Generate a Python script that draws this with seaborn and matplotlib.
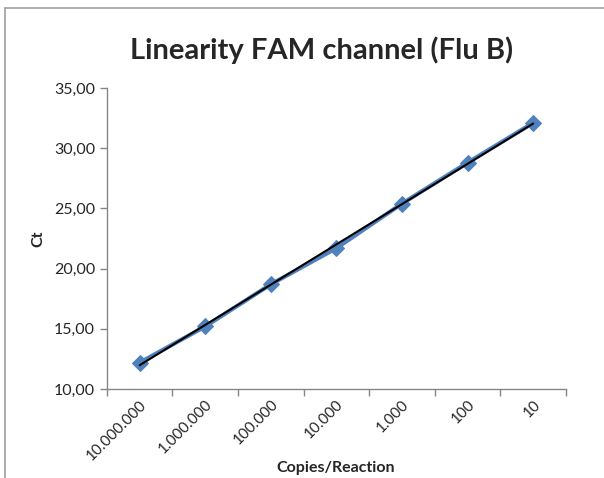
import numpy as np
import pandas as pd
import seaborn as sns
import matplotlib.pyplot as plt
from matplotlib.lines import Line2D

# data
copies = ['10.000.000', '1.000.000', '100.000', '10.000', '1.000', '100', '10']
ct = [12.2, 15.2, 18.7, 21.7, 25.4, 28.8, 32.1]
y_ticks = [10, 15, 20, 25, 30, 35]

df = pd.DataFrame({'pos': np.arange(len(copies)), 'ct': ct})

sns.set_style('white')
plt.rcParams['font.family'] = ['Lato', 'DejaVu Sans']

fig = plt.figure(figsize=(6.04, 4.78), dpi=100)
ax = fig.add_axes([0.177, 0.186, 0.76, 0.63])

sns.lineplot(data=df, x='pos', y='ct', ax=ax, color='#4F81BD', linewidth=3,
             marker='D', markersize=8, markeredgecolor='#4F81BD')
# linear trendline
sns.regplot(data=df, x='pos', y='ct', ax=ax, scatter=False, ci=None,
            color='black', line_kws={'linewidth': 1.5}, truncate=True)

ax.set_xlim(-0.5, len(copies) - 0.5)
ax.set_ylim(10, 35)
ax.set_yticks(y_ticks)
ax.set_yticklabels([f'{v:.2f}'.replace('.', ',') for v in y_ticks], fontsize=11.5)

# excel style: ticks between categories, labels at centres
ax.set_xticks(np.arange(-0.5, len(copies), 1.0))
ax.set_xticklabels([])
ax.set_xticks(np.arange(len(copies)), minor=True)
ax.set_xticklabels(copies, minor=True, rotation=45, ha='right',
                   rotation_mode='anchor', fontsize=11)
ax.tick_params(axis='x', which='minor', length=0, pad=6)
ax.tick_params(axis='both', which='major', direction='out', length=5,
               color='#868686', width=1, left=True, bottom=True)

for s in ['top', 'right']:
    ax.spines[s].set_visible(False)
for s in ['left', 'bottom']:
    ax.spines[s].set_color('#868686')
    ax.spines[s].set_linewidth(1)

ax.set_xlabel('')
ax.set_ylabel('Ct', fontweight='bold', fontsize=11.5, labelpad=6)
fig.text(336 / 604, 1 - 468 / 478, 'Copies/Reaction', ha='center', va='center',
         fontweight='bold', fontsize=11.5)

fig.text(0.533, 0.895, 'Linearity FAM channel (Flu B)', ha='center',
         va='center', fontsize=21, fontweight='bold')

# chart frame (cut off on right / bottom)
fig.add_artist(Line2D([5 / 604, 5 / 604], [0, 1 - 8 / 478], color='#a0a0a0',
                      linewidth=1.2, transform=fig.transFigure))
fig.add_artist(Line2D([5 / 604, 1], [1 - 8 / 478, 1 - 8 / 478], color='#a0a0a0',
                      linewidth=1.2, transform=fig.transFigure))

fig.savefig('out.png', dpi=100)
